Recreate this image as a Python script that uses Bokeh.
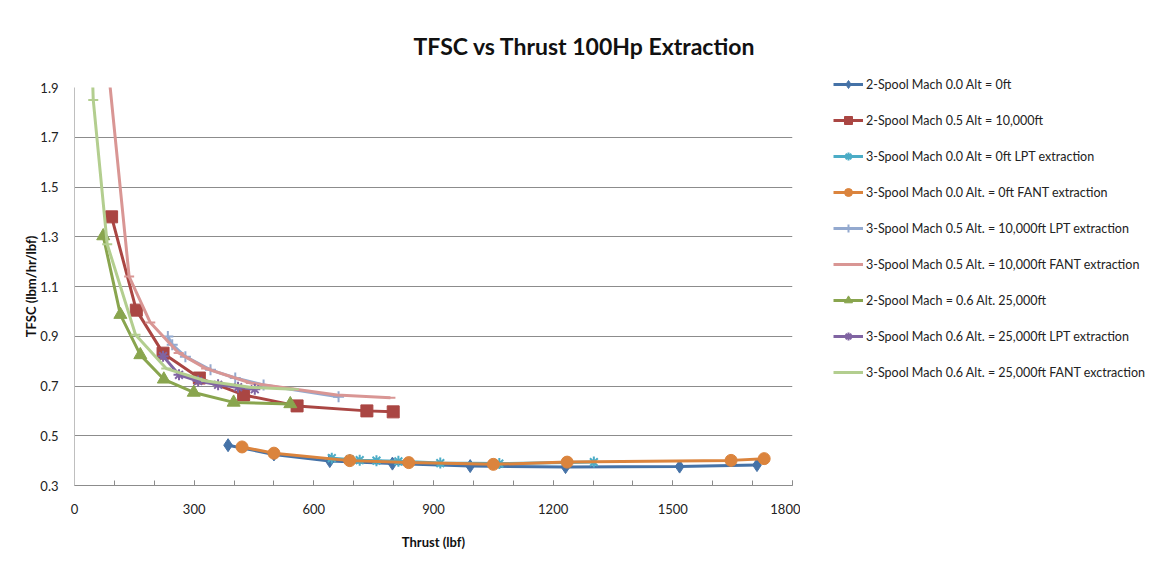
from bokeh.plotting import figure
from bokeh.layouts import row
from bokeh.models import FixedTicker, Legend, LegendItem, Range1d, CustomJSTickFormatter
from bokeh.embed import file_html
from bokeh.resources import INLINE

FONT = "Lato, Roboto, sans-serif"

# ---- data (thrust lbf, TSFC lbm/hr/lbf) ----
s1_x = [385, 500, 640, 797, 992, 1231, 1517, 1711]
s1_y = [0.462, 0.425, 0.398, 0.388, 0.378, 0.374, 0.376, 0.382]

s2_x = [93, 155, 222, 313, 424, 558, 733, 799]
s2_y = [1.38, 1.005, 0.832, 0.732, 0.664, 0.62, 0.60, 0.596]

s3_x = [645, 690, 715, 757, 812, 917, 1065, 1302]
s3_y = [0.41, 0.405, 0.402, 0.40, 0.397, 0.39, 0.388, 0.394]

s4_x = [420, 500, 690, 838, 1050, 1235, 1646, 1729]
s4_y = [0.455, 0.43, 0.40, 0.392, 0.385, 0.394, 0.401, 0.408]

s5_x = [234, 245, 278, 341, 403, 474, 662]
s5_y = [0.899, 0.866, 0.818, 0.765, 0.732, 0.704, 0.657]

s6_x = [55, 137, 190, 261, 330, 442, 658, 792]
s6_y = [2.45, 1.14, 0.955, 0.833, 0.77, 0.712, 0.664, 0.653]

s7_x = [72, 115, 165, 224, 299, 399, 541]
s7_y = [1.303, 0.987, 0.825, 0.727, 0.674, 0.634, 0.628]

s8_x = [222, 262, 310, 360, 410, 452]
s8_y = [0.82, 0.745, 0.72, 0.705, 0.695, 0.687]

s9_x = [40, 47, 82, 153, 230, 330, 440, 550]
s9_y = [2.2, 1.85, 1.27, 0.906, 0.77, 0.72, 0.695, 0.687]

names = [
    "2-Spool Mach 0.0 Alt = 0ft",
    "2-Spool Mach 0.5 Alt = 10,000ft",
    "3-Spool Mach 0.0 Alt = 0ft LPT extraction",
    "3-Spool Mach 0.0 Alt. = 0ft FANT extraction",
    "3-Spool Mach 0.5 Alt. = 10,000ft LPT extraction",
    "3-Spool Mach 0.5 Alt. = 10,000ft FANT extraction",
    "2-Spool Mach = 0.6 Alt. 25,000ft",
    "3-Spool Mach 0.6 Alt. = 25,000ft LPT extraction",
    "3-Spool Mach 0.6 Alt. = 25,000ft FANT exctraction",
]

x_ticks = [0, 300, 600, 900, 1200, 1500, 1800]
y_ticks = [0.3, 0.5, 0.7, 0.9, 1.1, 1.3, 1.5, 1.7, 1.9]

series = [
    (s1_x, s1_y, "#4572A7", "diamond", 13),
    (s2_x, s2_y, "#AA4643", "square", 12),
    (s3_x, s3_y, "#4BACC6", "asterisk", 11),
    (s4_x, s4_y, "#DB843D", "circle", 12),
    (s5_x, s5_y, "#93A9CF", "cross", 11),
    (s6_x, s6_y, "#D99694", "dash", 10),
    (s7_x, s7_y, "#89A54E", "triangle", 13),
    (s8_x, s8_y, "#8064A2", "asterisk", 11),
    (s9_x, s9_y, "#B3CE8F", "dash", 10),
]


def draw(fig, xs, ys, col, mk, sz):
    ln = fig.line(xs, ys, line_color=col, line_width=3)
    if mk in ("asterisk", "cross", "dash"):
        sc = fig.scatter(xs, ys, marker=mk, size=sz, line_color=col, line_width=2,
                         fill_color=col)
    else:
        sc = fig.scatter(xs, ys, marker=mk, size=sz, line_color=col, fill_color=col)
    return ln, sc


p = figure(width=800, height=575, output_backend="svg", toolbar_location=None,
           x_range=Range1d(0, 1800), y_range=Range1d(0.3, 1.9),
           min_border_left=74, min_border_right=8, min_border_top=87,
           min_border_bottom=90)
p.frame_align = False
p.outline_line_color = None
p.background_fill_color = "white"
p.border_fill_color = "white"

p.title.text = "TFSC vs Thrust 100Hp Extraction"
p.title.align = "left"
p.title.offset = 339
p.title.text_font = FONT
p.title.text_font_style = "bold"
p.title.text_font_size = "23px"
p.title.text_color = "#111111"
p.title.standoff = 56

p.xgrid.grid_line_color = None
p.ygrid.grid_line_color = "#8c8c8c"
p.ygrid.grid_line_width = 1
p.ygrid.ticker = FixedTicker(ticks=y_ticks)

p.xaxis.ticker = FixedTicker(ticks=x_ticks, minor_ticks=list(range(0, 1801, 100)))
p.yaxis.ticker = FixedTicker(ticks=y_ticks)
p.yaxis.formatter = CustomJSTickFormatter(code="return tick.toFixed(1)")

for ax in (p.xaxis[0], p.yaxis[0]):
    ax.axis_line_color = "#8c8c8c"
    ax.major_label_text_font = FONT
    ax.major_label_text_font_size = "13px"
    ax.major_label_text_color = "#222222"
    ax.axis_label_text_font = FONT
    ax.axis_label_text_font_style = "bold"
    ax.axis_label_text_font_size = "13px"
    ax.axis_label_text_color = "#111111"

p.xaxis.major_tick_in = 5
p.xaxis.major_tick_out = 0
p.xaxis.minor_tick_in = 5
p.xaxis.minor_tick_out = 0
p.xaxis.major_tick_line_color = "#8c8c8c"
p.xaxis.minor_tick_line_color = "#8c8c8c"
p.xaxis.major_label_standoff = 18
p.xaxis.axis_label = "Thrust (lbf)"
p.xaxis.axis_label_standoff = 17

p.yaxis.major_tick_line_color = None
p.yaxis.minor_tick_line_color = None
p.yaxis.axis_line_color = "#bfbfbf"
p.yaxis.major_label_standoff = 10
p.yaxis.axis_label = "TFSC (lbm/hr/lbf)"
p.yaxis.axis_label_standoff = -2

for (xs, ys, col, mk, sz) in series:
    draw(p, xs, ys, col, mk, sz)

# ---- legend panel: separate figure, same series, view range keeps marks out ----
lg = figure(width=351, height=575, output_backend="svg", toolbar_location=None,
            x_range=Range1d(-2, -1), y_range=Range1d(-2, -1),
            x_axis_location=None, y_axis_location=None,
            min_border_left=0, min_border_right=0, min_border_top=0,
            min_border_bottom=0)
lg.frame_align = False
lg.outline_line_color = None
lg.xgrid.visible = False
lg.ygrid.visible = False

items = []
for (xs, ys, col, mk, sz), nm in zip(series, names):
    ln, sc = draw(lg, xs, ys, col, mk, sz)
    items.append(LegendItem(label=nm, renderers=[ln, sc]))

legend = Legend(items=items, location=(33, 193))
legend.border_line_color = None
legend.background_fill_alpha = 0
legend.label_text_font = FONT
legend.label_text_font_size = "12.5px"
legend.label_text_color = "#222222"
legend.glyph_width = 30
legend.glyph_height = 20
legend.label_height = 20
legend.spacing = 16
legend.label_standoff = 3
legend.padding = 0
legend.margin = 0
lg.add_layout(legend, "center")

layout = row(p, lg, spacing=0)
open("out.html", "w").write(file_html(layout, INLINE))
